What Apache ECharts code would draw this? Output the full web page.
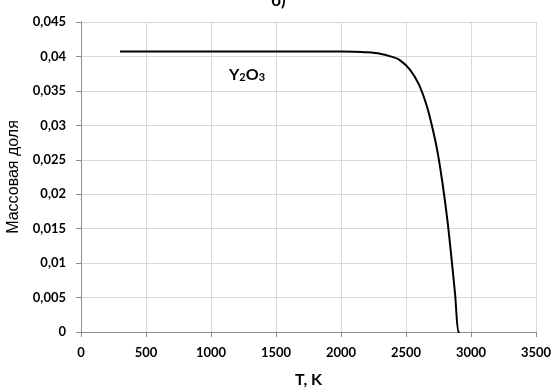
<!DOCTYPE html>
<html>
<head>
<meta charset="utf-8">
<script src="https://cdn.jsdelivr.net/npm/echarts@6/dist/echarts.min.js"></script>
<style>html,body{margin:0;padding:0;background:#fff}#c{width:551px;height:388px}</style>
</head>
<body>
<div id="c"></div>
<script>
var temperatures = [300, 1000, 1500, 2000, 2100, 2200, 2300, 2400, 2450, 2530, 2600, 2660, 2700, 2740, 2780, 2820, 2850, 2878, 2903, 2912];
var massFraction = [0.0407, 0.0407, 0.0407, 0.0407, 0.04068, 0.0406, 0.0404, 0.0399, 0.0395, 0.0381, 0.0359, 0.0328, 0.0299, 0.0264, 0.0217, 0.0160, 0.0107, 0.0054, 0.0, 0.0];
var xTicks = [0, 500, 1000, 1500, 2000, 2500, 3000, 3500];
var yTicks = [0, 0.005, 0.01, 0.015, 0.02, 0.025, 0.03, 0.035, 0.04, 0.045];

var chart = echarts.init(document.getElementById('c'), null, {renderer: 'canvas'});
var labelFont = {color: '#000', fontFamily: 'Lato', fontWeight: 'bold', fontSize: 13};
chart.setOption({
  animation: false,
  title: [{
    text: 'б)', left: 266, top: -13,
    textStyle: {fontFamily: 'Lato', fontWeight: 'bold', fontSize: 17, color: '#000'}
  }, {
    text: 'Y{s|2}O{s|3}', left: 224, top: 61,
    textStyle: {fontFamily: 'Lato', fontWeight: 'bold', fontSize: 16, color: '#000',
      rich: {s: {fontFamily: 'Lato', fontWeight: 'bold', fontSize: 11, color: '#000', verticalAlign: 'bottom', padding: [6, 0, 0, 0]}}}
  }],
  grid: {left: 81, right: 15, top: 22, bottom: 56, containLabel: false, outerBoundsMode: 'none'},
  xAxis: {
    type: 'value', min: 0, max: 3500, interval: 500,
    name: 'T, K', nameLocation: 'middle', nameGap: 40,
    nameTextStyle: {color: '#000', fontFamily: 'Lato', fontWeight: 'bold', fontSize: 16},
    axisLine: {show: true, lineStyle: {color: '#8c8c8c', width: 1}},
    axisTick: {show: true, length: 5, lineStyle: {color: '#8c8c8c'}},
    axisLabel: Object.assign({margin: 14, formatter: function (v) { return xTicks.indexOf(v) >= 0 ? String(v) : ''; }}, labelFont),
    splitLine: {show: true, lineStyle: {color: '#d9d9d9', width: 1}}
  },
  yAxis: {
    type: 'value', min: 0, max: 0.045, interval: 0.005,
    name: 'Массовая доля', nameLocation: 'middle', nameGap: 52,
    nameTextStyle: {color: '#000', fontFamily: 'Liberation Sans', fontSize: 16},
    axisLine: {show: true, lineStyle: {color: '#8c8c8c', width: 1}},
    axisTick: {show: true, length: 5, lineStyle: {color: '#8c8c8c'}},
    axisLabel: Object.assign({margin: 15, formatter: function (v) {
      var s = yTicks.reduce(function (a, t) { return Math.abs(t - v) < 1e-9 ? t : a; }, null);
      return s === null ? '' : String(+s.toFixed(3)).replace('.', ',');
    }}, labelFont),
    splitLine: {show: true, lineStyle: {color: '#d9d9d9', width: 1}}
  },
  series: [{
    type: 'line',
    data: temperatures.map(function (t, i) { return [t, massFraction[i]]; }),
    smooth: 0.3,
    showSymbol: false,
    lineStyle: {color: '#000', width: 2}
  }]
});
</script>
</body>
</html>
